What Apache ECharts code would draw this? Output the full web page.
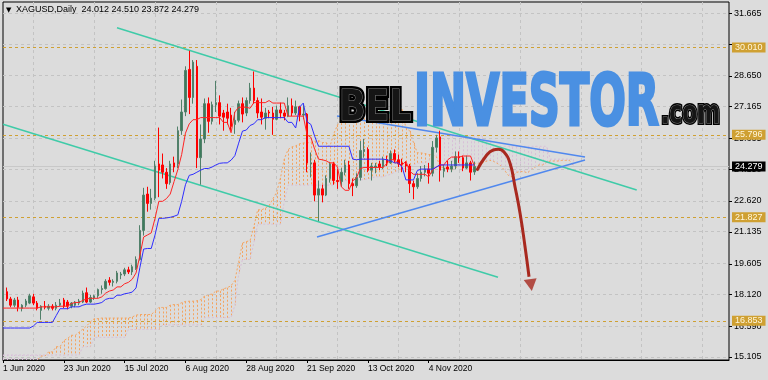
<!DOCTYPE html>
<html><head><meta charset="utf-8">
<script src="https://cdn.jsdelivr.net/npm/echarts@6/dist/echarts.min.js"></script>
<style>html,body{margin:0;padding:0;background:#DCDCDC;}#c{width:768px;height:380px;}</style>
</head><body><div id="c"></div>
<script>
// ---------- data ----------
const dateLabels = ['1 Jun 2020','23 Jun 2020','15 Jul 2020','6 Aug 2020','28 Aug 2020','21 Sep 2020','13 Oct 2020','4 Nov 2020'];
const opens = [17.95,18.25,17.9,17.6,17.85,17.45,17.6,17.7,18.0,17.7,
17.35,17.55,17.45,17.55,17.45,17.6,17.85,17.75,17.55,17.6,
17.7,17.75,18.2,17.75,17.95,18.05,18.35,18.4,18.8,18.7,
18.75,19.05,19.1,19.3,19.2,19.35,19.8,21.2,22.95,22.5,
22.75,24.4,24.35,24.0,23.5,24.45,24.4,26.0,26.9,28.95,
27.6,29.1,24.7,25.6,27.3,26.45,27.25,27.35,26.85,26.9,
26.75,26.3,26.5,27.3,26.85,27.45,28.05,27.45,26.9,26.6,
26.9,26.85,26.55,27.0,26.85,26.7,27.2,26.85,27.15,26.75,
26.8,24.4,24.45,22.9,23.2,22.9,23.7,24.4,23.6,23.55,
24.0,24.35,23.45,23.35,23.75,25.0,25.1,24.1,24.25,24.4,
24.25,24.6,24.45,24.9,24.6,24.45,24.4,24.3,23.45,23.3,
23.7,24.0,24.15,23.95,25.2,25.7,24.05,24.25,24.15,24.3,
24.75,24.7,24.2,24.45,24.012];
const closes = [18.25,17.9,17.6,17.85,17.5,17.6,17.8,18.05,17.7,17.45,
17.55,17.5,17.55,17.45,17.6,17.7,17.55,17.55,17.7,17.75,
17.8,18.18,17.75,17.97,18.05,18.35,18.4,18.75,18.7,18.75,
19.15,19.1,19.3,19.2,19.45,19.8,21.2,22.9,22.5,22.75,
24.3,24.1,24.0,23.45,24.4,24.25,26.0,26.9,28.9,27.6,
29.3,24.7,25.6,27.3,26.45,27.25,27.35,26.7,26.65,26.6,
26.2,26.5,27.3,26.8,27.45,28.05,27.45,26.85,26.65,26.85,
26.85,26.55,27.0,26.85,26.7,27.2,26.85,27.15,26.75,26.8,
24.45,24.45,22.9,23.2,22.9,23.7,24.4,23.6,23.55,24.0,
24.35,23.45,23.35,23.75,25.05,25.1,24.1,24.3,24.3,24.25,
24.6,24.45,24.9,24.6,24.4,24.4,24.3,23.45,23.3,23.7,
24.0,24.15,23.95,25.2,25.65,24.1,24.2,24.15,24.3,24.75,
24.7,24.2,24.45,24.0,24.279];
const lows = [17.85,17.8,17.5,17.5,17.3,17.3,17.5,17.65,17.6,17.35,
16.9,17.4,17.35,17.35,17.35,17.55,17.45,17.4,17.45,17.5,
17.6,17.7,17.7,17.7,17.85,17.95,18.15,18.35,18.55,18.5,
18.65,18.85,19.0,19.1,19.05,19.3,19.75,20.95,22.1,22.2,
22.65,22.8,23.7,23.2,23.4,24.0,24.2,25.8,26.7,26.8,
27.3,24.2,23.4,25.4,25.9,26.3,26.9,26.3,26.0,26.3,
26.0,25.85,26.4,26.4,26.7,27.3,27.3,26.6,26.3,26.05,
26.6,25.8,26.5,26.6,26.5,26.65,26.7,26.75,26.45,26.55,
24.0,23.75,22.6,21.65,22.55,22.85,23.5,23.4,23.2,23.3,
23.85,23.2,22.85,23.25,23.6,24.7,24.0,23.6,23.95,24.1,
24.15,24.3,24.4,24.45,24.25,24.0,24.0,23.0,22.7,23.2,
23.55,23.8,23.45,23.8,24.95,23.55,23.75,24.0,24.0,24.15,
24.45,24.05,24.15,23.6,23.872];
const highs = [18.35,18.45,18.0,17.95,18.0,17.65,17.9,18.15,18.15,17.8,
17.6,17.8,17.65,17.65,17.75,17.9,17.95,17.85,17.75,17.8,
17.9,18.3,18.45,18.1,18.1,18.4,18.55,18.85,18.95,18.85,
19.25,19.2,19.4,19.45,19.55,19.95,21.45,23.25,23.3,23.2,
24.55,26.15,24.9,24.2,24.55,24.75,26.2,27.5,29.1,29.85,
29.4,29.4,26.3,27.55,27.6,27.4,28.4,27.7,27.0,27.3,
27.1,26.9,27.45,27.6,27.6,28.3,28.85,27.6,27.55,27.1,
27.0,27.15,27.2,27.35,27.0,27.6,27.55,27.45,27.2,27.25,
26.85,24.95,24.6,23.6,23.4,23.85,24.5,24.5,24.15,24.2,
24.6,24.55,23.7,23.95,25.5,25.6,25.2,24.45,24.45,24.55,
24.75,24.8,25.05,25.1,24.85,24.65,24.5,24.4,23.6,23.95,
24.3,24.35,24.45,25.5,25.8,26.0,24.35,24.55,24.55,25.0,
25.0,24.8,24.8,24.55,24.51];
const tenkan = [17.46,17.46,17.46,17.46,17.46,17.46,17.46,17.46,17.46,17.46,
17.52,17.52,17.52,17.52,17.52,17.55,17.55,17.55,17.68,17.73,
17.73,17.83,17.9,17.93,17.93,17.93,18.0,18.18,18.28,18.33,
18.48,18.48,18.63,18.7,18.85,19.15,19.98,20.88,20.98,21.08,
21.78,22.6,22.6,22.73,22.95,23.55,24.13,24.85,25.88,26.33,
26.53,26.53,26.63,26.63,26.63,26.63,26.63,26.63,26.4,26.4,
25.9,26.9,27.13,27.13,27.13,27.08,27.35,27.35,27.35,27.35,
27.45,27.33,27.33,27.33,27.33,26.7,26.7,26.7,26.7,26.7,
25.8,25.68,25.1,24.63,24.6,24.55,24.45,24.45,24.25,23.3,
23.13,23.13,23.58,23.73,24.18,24.23,24.23,24.23,24.23,24.23,
24.23,24.43,24.6,24.6,24.4,24.35,24.53,24.05,23.9,23.9,
23.9,23.9,23.78,24.1,24.25,24.35,24.35,24.6,24.73,24.73,
24.73,24.78,24.78,24.78,24.3];
const kijun = [16.5,16.5,16.5,16.5,16.5,16.5,16.5,16.5,16.6,16.77,
16.77,16.77,16.77,16.77,17.1,17.43,17.43,17.43,17.52,17.52,
17.52,17.6,17.65,17.65,17.65,17.68,17.73,17.88,17.93,17.93,
18.08,18.08,18.15,18.18,18.23,18.43,19.4,20.3,20.33,20.33,
20.98,21.78,21.78,21.8,21.83,21.88,21.95,22.6,23.4,23.85,
23.9,24.0,24.1,24.18,24.18,24.25,24.35,24.43,24.45,24.45,
24.58,24.8,25.4,25.98,26.03,26.25,26.33,26.53,26.53,26.63,
26.63,26.63,26.63,26.63,26.63,26.4,26.4,26.13,27.13,27.33,
26.43,26.3,25.73,25.25,25.25,25.25,25.25,25.25,25.25,25.25,
25.25,25.25,24.63,24.6,24.63,24.63,24.63,24.63,24.63,24.63,
24.63,24.6,24.55,24.45,24.45,24.25,23.63,23.63,23.63,24.08,
24.15,24.15,24.15,24.15,24.25,24.35,24.35,24.35,24.35,24.35,
24.35,24.35,24.35,24.35,24.35];
const spanA = [14.5,14.5,14.5,14.5,14.5,14.5,14.7,14.7,14.7,14.95,
15.15,15.15,15.35,15.35,15.6,15.6,15.9,16.0,16.15,16.15,
16.3,16.45,16.6,16.8,16.95,16.95,16.98,16.98,16.98,16.98,
16.98,16.98,16.98,16.98,17.03,17.12,17.15,17.15,17.15,17.15,
17.31,17.49,17.49,17.49,17.6,17.63,17.63,17.72,17.78,17.79,
17.79,17.81,17.87,18.03,18.11,18.13,18.28,18.28,18.39,18.44,
18.54,18.79,19.69,20.59,20.66,20.71,21.38,22.19,22.19,22.27,
22.39,22.72,23.04,23.73,24.64,25.09,25.22,25.27,25.37,25.41,
25.41,25.44,25.49,25.53,25.43,25.43,25.24,25.85,26.27,26.56,
26.58,26.67,26.84,26.94,26.94,26.99,27.04,26.98,26.98,26.98,
26.98,26.55,26.55,26.42,26.92,27.02,26.12,25.99,25.42,24.94,
24.93,24.9,24.85,24.85,24.75,24.28,24.19,24.19,24.1,24.17,
24.4,24.43,24.43,24.43,24.43,24.43,24.43,24.52,24.58,24.53,
24.43,24.3,24.08,23.84,23.77,23.99,24.03,24.03,23.97,24.13,
24.25,24.35,24.35,24.48,24.54,24.54,24.54,24.57,24.57,24.57,
24.33];
const spanB = [15.2,15.2,15.2,15.2,15.2,15.2,15.2,15.2,15.2,15.2,
15.2,15.2,15.2,15.2,15.2,15.2,15.2,15.2,15.2,15.2,
15.2,15.6,15.6,15.6,16.05,16.05,16.05,16.05,16.05,16.05,
16.05,16.05,16.05,16.43,16.43,16.43,16.43,16.43,16.43,16.43,
16.43,16.43,16.65,16.65,16.65,16.65,16.65,16.65,16.65,16.65,
16.65,16.65,16.65,17.0,17.0,17.0,17.0,17.0,17.0,17.0,
17.0,17.6,19.1,19.8,19.8,19.8,20.6,21.5,21.5,21.5,
21.5,21.5,21.5,21.5,22.6,23.38,23.38,23.38,23.38,23.38,
23.38,23.38,23.38,23.38,23.38,23.38,23.38,23.38,23.6,23.6,
23.6,23.6,23.63,23.63,23.63,23.65,23.68,23.73,23.78,23.78,
23.78,23.85,23.9,24.0,24.1,24.18,24.18,24.25,24.35,24.43,
24.45,24.45,24.58,24.8,25.4,25.75,25.75,25.75,25.75,25.75,
25.75,25.75,25.75,25.75,25.75,25.75,25.75,25.53,25.53,25.25,
25.25,25.25,25.25,25.25,25.25,25.25,25.25,25.25,25.25,25.25,
25.25,25.25,25.25,25.25,24.63,24.63,24.63,24.63,24.63,24.63,
24.63];
const yTickValues = [15.105,16.590,18.120,19.605,21.135,22.620,24.150,25.635,27.165,28.650,30.150,31.665];
const yTickLabels = ['15.105','16.590','18.120','19.605','21.135','22.620','24.150','25.635','27.165','28.650','','31.665'];
const levels = [30.010, 25.796, 21.827, 16.853];
const levelLabels = ['30.010','25.796','21.827','16.853'];
const bidPrice = 24.279;
const bidLabel = '24.279';
const channelUpper = [[29.99,30.958],[166.72,23.145]];
const channelLower = [[0,26.312],[130.23,18.942]];
const triangleUpper = [[87.87,26.707],[153.12,24.733]];
const triangleLower = [[82.61,20.882],[153.12,24.589]];
const arrowPath = [[124.63,24.074],[127.26,24.83],[128.99,25.07],[130.31,25.104],[131.81,24.974],[133.39,24.43],[134.7,23.304],[136.02,22.038],[137.34,20.415],[138.39,18.971]];
const arrowHead = [138.91,18.572];

// ---------- categories (trading days) ----------
const nCats = 192;
const categories = [];
(function(){
  const d = new Date(Date.UTC(2020,5,1));
  while (categories.length < nCats) {
    const w = d.getUTCDay();
    if (w !== 0 && w !== 6) categories.push(d.toISOString().slice(0,10));
    d.setUTCDate(d.getUTCDate()+1);
  }
})();
const candleData = opens.map((o,i)=>[o, closes[i], lows[i], highs[i]]);
const cloudData = spanA.map((a,j)=>[j, a, spanB[j]]);

const FONT = '"Liberation Sans", Arial, sans-serif';
const LOGO = '"Liberation Sans Narrow", "DejaVu Sans Condensed", "Liberation Sans", sans-serif';
const chart = echarts.init(document.getElementById('c'), null, {renderer:'canvas'});
const gridColor = '#C3C3C3';
const gold = '#CFA032';

chart.setOption({
  animation: false,
  backgroundColor: '#DCDCDC',
  grid: {left: 3, right: 39, top: 2, bottom: 20, show: true, borderColor: '#000', borderWidth: 1, backgroundColor: 'transparent'},
  xAxis: [{
    type: 'category', data: categories, boundaryGap: false,
    axisLine: {show: true, lineStyle: {color: '#000'}},
    axisTick: {show: true, length: 3, interval: (i)=> i % 16 === 0 && i <= 124, lineStyle: {color: '#000'}},
    axisLabel: {show: true, interval: (i)=> i % 16 === 0 && i <= 124, formatter: (v, i)=> dateLabels[i/16] || '', align: 'left', margin: 4, fontSize: 8.5, fontFamily: FONT, color: '#000'},
    splitLine: {show: true, interval: (i)=> i % 16 === 8, lineStyle: {color: gridColor, type: [3,3]}}
  }, {
    type: 'value', min: 0, max: nCats - 1, show: false
  }],
  yAxis: {
    type: 'value', min: 14.961, max: 32.195, position: 'right',
    axisLabel: {show: false}, axisTick: {show: false}, axisLine: {show: false}, splitLine: {show: false}
  },
  series: [
    { type: 'line', name: 'grid', data: [], z: 1, silent: true,
      markLine: { symbol: ['none','none'], silent: true, animation: false,
        lineStyle: {color: gridColor, type: [3,3], width: 1},
        label: {show: true, position: 'end', distance: 5, fontSize: 9, fontFamily: FONT, color: '#000'},
        data: yTickValues.map((v,i)=>({yAxis: v, label: {formatter: yTickLabels[i]}})) } },
    { type: 'custom', name: 'cloud', xAxisIndex: 1, data: cloudData, z: 2, silent: true, clip: true,
      renderItem: function(params, api){
        const j = api.value(0), a = api.value(1), b = api.value(2);
        const p1 = api.coord([j, a]), p2 = api.coord([j, b]);
        const cs = params.coordSys; const top = cs.y, bot = cs.y + cs.height;
        const y1 = Math.max(top, Math.min(bot, p1[1])), y2 = Math.max(top, Math.min(bot, p2[1]));
        if (Math.abs(y1 - y2) < 0.5) return null;
        const x = Math.round(p1[0]) + 0.5;
        return {type: 'line', shape: {x1: x, y1: y1, x2: x, y2: y2},
          style: {stroke: a >= b ? '#F4A460' : '#D8BFD8', lineWidth: 1, lineDash: [2,2]}};
      } },
    { type: 'line', name: 'Senkou A', data: spanA, showSymbol: false, z: 3, silent: true,
      lineStyle: {color: '#F4A460', width: 1, type: [2,2]} },
    { type: 'line', name: 'Senkou B', data: spanB, showSymbol: false, z: 3, silent: true,
      lineStyle: {color: '#D8BFD8', width: 1, type: [2,2]} },
    { type: 'line', name: 'levels', data: [], z: 4, silent: true,
      markLine: { symbol: ['none','none'], silent: true, animation: false,
        lineStyle: {color: gold, type: [3,3], width: 1},
        label: {show: true, position: 'end', distance: 3, fontSize: 9, fontFamily: FONT, color: '#FFF6DA',
          backgroundColor: gold, padding: [1,3,0,3]},
        data: levels.map((v,i)=>({yAxis: v, label: {formatter: levelLabels[i]}})) } },
    { type: 'line', name: 'bid', data: [], z: 4, silent: true,
      markLine: { symbol: ['none','none'], silent: true, animation: false,
        lineStyle: {color: '#C8C8C8', type: 'solid', width: 1},
        label: {show: true, position: 'end', distance: 3, fontSize: 9, fontFamily: FONT, color: '#FFFFFF',
          backgroundColor: '#000', padding: [1,3,0,3]},
        data: [{yAxis: bidPrice, label: {formatter: bidLabel}}] } },
    { type: 'line', name: 'channelUpper', xAxisIndex: 1, data: channelUpper, showSymbol: false, z: 5, silent: true,
      lineStyle: {color: '#3FCBA8', width: 1.5} },
    { type: 'line', name: 'channelLower', xAxisIndex: 1, data: channelLower, showSymbol: false, z: 5, silent: true,
      lineStyle: {color: '#3FCBA8', width: 1.5} },
    { type: 'line', name: 'triangleUpper', xAxisIndex: 1, data: triangleUpper, showSymbol: false, z: 5, silent: true,
      lineStyle: {color: '#5088EE', width: 1.5} },
    { type: 'line', name: 'triangleLower', xAxisIndex: 1, data: triangleLower, showSymbol: false, z: 5, silent: true,
      lineStyle: {color: '#5088EE', width: 1.5} },
    { type: 'candlestick', name: 'XAGUSD', data: candleData, z: 6, barWidth: 2,
      itemStyle: {color: '#3D7B5C', color0: '#FF0000', borderColor: '#51806A', borderColor0: '#FF0000', borderWidth: 1} },
    { type: 'line', name: 'Tenkan', data: tenkan, showSymbol: false, z: 7, silent: true,
      lineStyle: {color: '#FF2424', width: 1} },
    { type: 'line', name: 'Kijun', data: kijun, showSymbol: false, z: 7, silent: true,
      lineStyle: {color: '#2E2EFF', width: 1} },
    { type: 'line', name: 'arrow', xAxisIndex: 1, data: arrowPath, showSymbol: false, smooth: 0.5, z: 8, silent: true,
      lineStyle: {color: '#A8291F', width: 3} },
    { type: 'scatter', name: 'arrowHead', xAxisIndex: 1, data: [arrowHead], symbol: 'triangle', symbolSize: [13, 12], symbolRotate: 188, z: 8, silent: true,
      itemStyle: {color: '#A8291F'} },
    { type: 'custom', name: 'yTicks', xAxisIndex: 1, data: yTickValues.map(v=>[nCats-1, v]), z: 9, silent: true, clip: false,
      renderItem: function(params, api){
        const p = api.coord([api.value(0), api.value(1)]);
        const y = Math.round(p[1]) + 0.5;
        return {type: 'line', shape: {x1: p[0], y1: y, x2: p[0] + 3, y2: y}, style: {stroke: '#000', lineWidth: 1}};
      } }
  ],
  graphic: [
    {type: 'text', x: 6, y: 10, z: 100, style: {text: '▼', fontSize: 7, fontFamily: '"DejaVu Sans", sans-serif', fill: '#000', verticalAlign: 'middle'}},
    {type: 'text', x: 16, y: 10, z: 100, style: {text: 'XAGUSD,Daily  24.012 24.510 23.872 24.279', fontSize: 9, fontFamily: FONT, fill: '#000', verticalAlign: 'middle'}},
    {type: 'text', x: 339, y: 109, scaleX: 0.9, z: 100, style: {text: 'BEL', fontSize: 43, fontWeight: 'bold', fontFamily: LOGO, fill: '#000', stroke: '#000', lineWidth: 6, align: 'left', verticalAlign: 'middle'}},
    {type: 'text', x: 339, y: 109, scaleX: 0.9, z: 101, style: {text: 'BEL', fontSize: 43, fontWeight: 'bold', fontFamily: LOGO, fill: '#151515', stroke: '#8A8A8A', lineWidth: 1, align: 'left', verticalAlign: 'middle'}},
    {type: 'text', x: 414, y: 106, scaleX: 0.665, z: 100, style: {text: 'INVESTOR', fontSize: 72, fontWeight: 'bold', fontFamily: LOGO, fill: '#4A90E2', stroke: '#4A90E2', lineWidth: 3, align: 'left', verticalAlign: 'middle'}},
    {type: 'text', x: 661, y: 115, scaleX: 0.76, z: 100, style: {text: '.com', fontSize: 32, fontWeight: 'bold', fontFamily: LOGO, fill: '#000', stroke: '#000', lineWidth: 4, align: 'left', verticalAlign: 'middle'}},
    {type: 'text', x: 661, y: 115, scaleX: 0.76, z: 101, style: {text: '.com', fontSize: 32, fontWeight: 'bold', fontFamily: LOGO, fill: '#151515', stroke: '#8A8A8A', lineWidth: 1, align: 'left', verticalAlign: 'middle'}}
  ]
});
</script>
</body></html>
